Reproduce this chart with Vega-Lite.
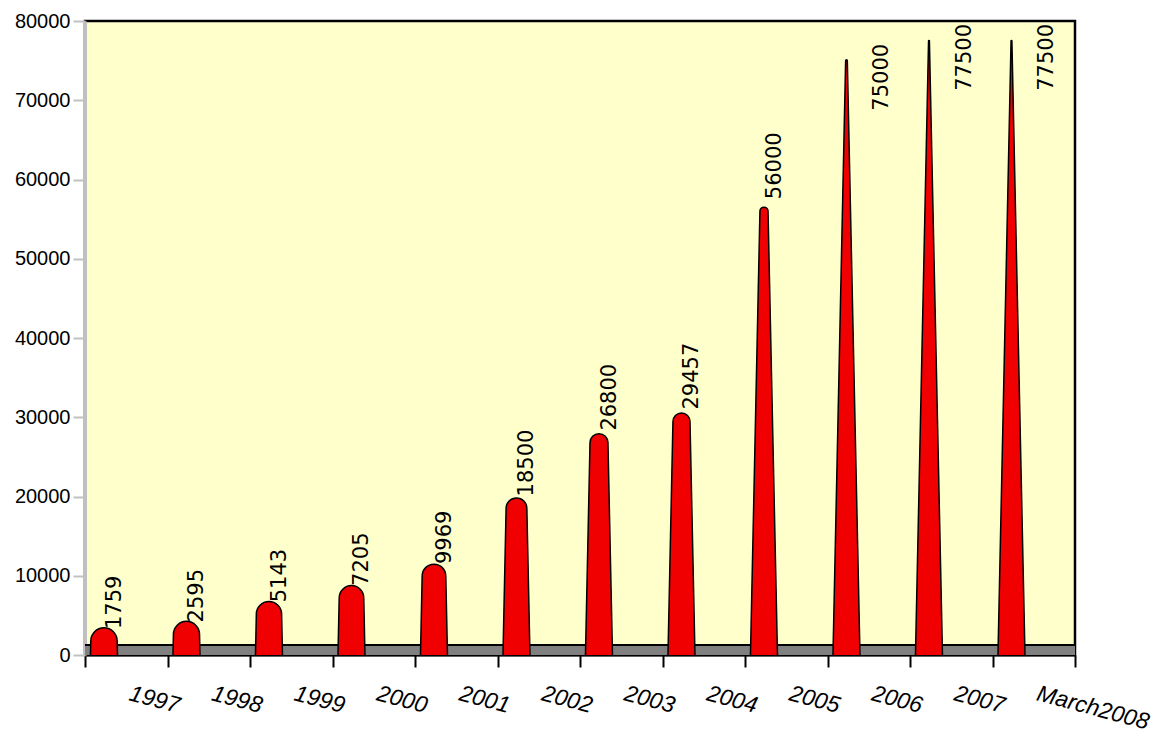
{
  "$schema": "https://vega.github.io/schema/vega-lite/v6.json",
  "width": 990,
  "height": 634,
  "autosize": "none",
  "padding": {"left": 85, "top": 21, "right": 88, "bottom": 79},
  "background": "white",
  "config": {
    "view": {"fill": "#FFFFCC", "stroke": "black", "strokeWidth": 2.5},
    "font": "Liberation Sans"
  },
  "data": {
    "values": [
      {"year": "1997", "value": 1759},
      {"year": "1998", "value": 2595},
      {"year": "1999", "value": 5143},
      {"year": "2000", "value": 7205},
      {"year": "2001", "value": 9969},
      {"year": "2002", "value": 18500},
      {"year": "2003", "value": 26800},
      {"year": "2004", "value": 29457},
      {"year": "2005", "value": 56000},
      {"year": "2006", "value": 75000},
      {"year": "2007", "value": 77500},
      {"year": "March2008", "value": 77500}
    ]
  },
  "layer": [
    {
      "mark": {"type": "rule", "color": "#808080", "strokeWidth": 10, "yOffset": -5},
      "encoding": {
        "y": {
          "datum": 0,
          "type": "quantitative",
          "scale": {"domain": [0, 80000]},
          "axis": {
            "title": null,
            "values": [0, 10000, 20000, 30000, 40000, 50000, 60000, 70000, 80000],
            "format": "d",
            "domainColor": "#C0C0C0",
            "domainWidth": 3,
            "tickColor": "#C0C0C0",
            "tickWidth": 2,
            "tickSize": 12,
            "labelFontSize": 20,
            "labelColor": "black",
            "labelPadding": 3,
            "gridColor": "#C0C0C0",
            "gridWidth": 2
          }
        }
      }
    },
    {
      "mark": {"type": "rule", "color": "black", "strokeWidth": 2, "yOffset": -10},
      "encoding": {"y": {"datum": 0, "type": "quantitative"}}
    },
    {
      "transform": [
        {"calculate": "0", "as": "base"},
        {"fold": ["base", "value"], "as": ["part", "v"]}
      ],
      "mark": {"type": "trail", "fill": "#F00000", "stroke": "black", "strokeWidth": 1.5, "clip": true},
      "encoding": {
        "x": {
          "field": "year",
          "type": "nominal",
          "sort": null,
          "bandPosition": 0.23,
          "scale": {"type": "band", "paddingInner": 0, "paddingOuter": 0},
          "axis": {
            "title": null,
            "tickBand": "extent",
            "domainColor": "black",
            "domainWidth": 2,
            "tickColor": "black",
            "tickWidth": 2,
            "tickSize": 12,
            "labelAngle": 15,
            "labelAlign": "left",
            "labelBaseline": "top",
            "labelFontStyle": "italic",
            "labelFontSize": 23,
            "labelPadding": 15,
            "labelOffset": 6,
            "labelColor": "black",
            "grid": false
          }
        },
        "y": {"field": "v", "type": "quantitative"},
        "detail": {"field": "year"},
        "order": {"field": "v", "type": "quantitative"},
        "size": {
          "field": "v",
          "type": "quantitative",
          "scale": {"domain": [0, 80000], "range": [27, 0]},
          "legend": null
        }
      }
    },
    {
      "transform": [{"filter": "datum.value <= 70000"}],
      "mark": {"type": "text", "angle": 270, "align": "left", "baseline": "middle", "dx": 12, "dy": 11, "font": "DejaVu Sans", "fontSize": 21, "color": "black"},
      "encoding": {
        "x": {"field": "year", "type": "nominal", "sort": null, "bandPosition": 0.23},
        "y": {"field": "value", "type": "quantitative"},
        "text": {"field": "value", "type": "quantitative", "format": "d"}
      }
    },
    {
      "transform": [{"filter": "datum.value > 70000"}],
      "mark": {"type": "text", "angle": 270, "align": "left", "baseline": "middle", "dx": -50, "dy": 36, "font": "DejaVu Sans", "fontSize": 21, "color": "black"},
      "encoding": {
        "x": {"field": "year", "type": "nominal", "sort": null, "bandPosition": 0.23},
        "y": {"field": "value", "type": "quantitative"},
        "text": {"field": "value", "type": "quantitative", "format": "d"}
      }
    }
  ]
}
